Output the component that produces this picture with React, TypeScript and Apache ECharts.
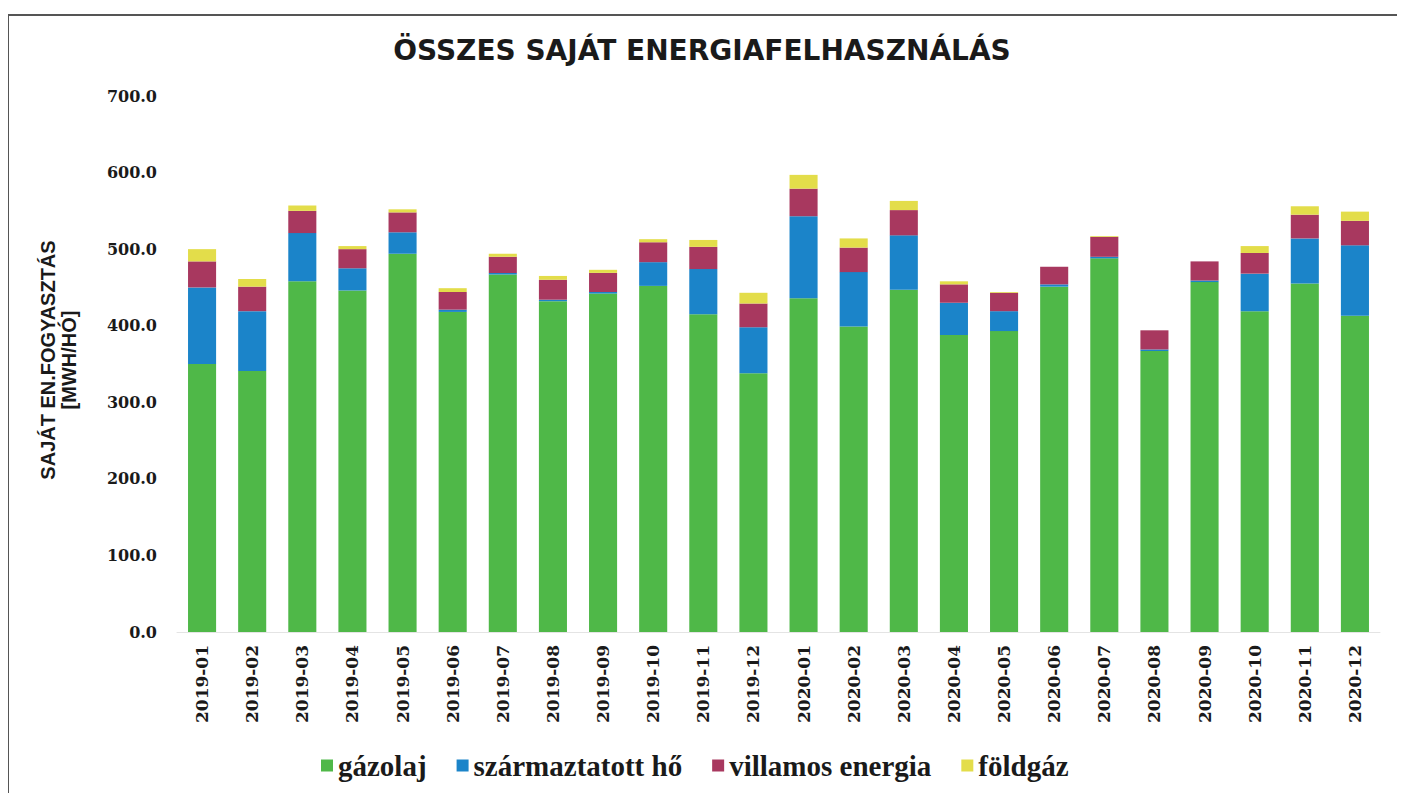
import React, { useEffect, useRef } from "react";
import * as echarts from "echarts";

const categories = [
  "2019-01", "2019-02", "2019-03", "2019-04", "2019-05", "2019-06",
  "2019-07", "2019-08", "2019-09", "2019-10", "2019-11", "2019-12",
  "2020-01", "2020-02", "2020-03", "2020-04", "2020-05", "2020-06",
  "2020-07", "2020-08", "2020-09", "2020-10", "2020-11", "2020-12",
];
const gazolaj = [350, 341, 458, 446, 494, 418, 467, 432, 442, 452, 415, 338, 436, 399, 447, 388, 393, 451, 488, 367, 457, 419, 455, 413];
const szarmaztatottHo = [100, 78, 63, 29, 28, 3, 2, 2, 2, 31, 59, 60, 107, 71, 71, 42, 26, 3, 2, 2, 2, 49, 59, 92];
const villamosEnergia = [34, 32, 29, 25, 26, 23, 21, 26, 25, 26, 29, 31, 36, 32, 33, 24, 24, 23, 26, 25, 25, 27, 31, 32];
const foldgaz = [16, 10, 7, 4, 4, 5, 4, 5, 4, 4, 9, 14, 18, 12, 12, 4, 1, 0, 1, 0, 0, 9, 11, 12];

const seriesNames = ["gázolaj", "származtatott hő", "villamos energia", "földgáz"];
const seriesColors = ["#4fb848", "#1b84c9", "#a8385f", "#e3dd4a"];
const seriesData = [gazolaj, szarmaztatottHo, villamosEnergia, foldgaz];

const title = "ÖSSZES SAJÁT ENERGIAFELHASZNÁLÁS";
const yAxisTitle = "SAJÁT EN.FOGYASZTÁS\n[MWH/HÓ]";

export default function App() {
  const ref = useRef<HTMLDivElement>(null);
  useEffect(() => {
    if (!ref.current) return;
    const chart = echarts.init(ref.current, null, { renderer: "svg" });
    chart.setOption({
      animation: false,
      backgroundColor: "#ffffff",
      title: {
        text: title,
        left: 697,
        textAlign: "center",
        top: 31,
        textStyle: {
          fontFamily: "DejaVu Sans",
          fontWeight: "bold",
          fontSize: 28,
          color: "#1a1a1a",
        },
      },
      graphic: [
        { type: "line", shape: { x1: 8, y1: 15, x2: 1405, y2: 15 }, style: { stroke: "#555", lineWidth: 2 } },
        { type: "line", shape: { x1: 8, y1: 15, x2: 8, y2: 801 }, style: { stroke: "#555", lineWidth: 2 } },
        {
          type: "text",
          x: 58,
          y: 360,
          rotation: Math.PI / 2,
          style: {
            text: yAxisTitle,
            fontFamily: "Liberation Sans",
            fontWeight: "bold",
            fontSize: 20,
            lineHeight: 21,
            fill: "#1a1a1a",
            align: "center",
            verticalAlign: "middle",
          },
        },
      ],
      legend: {
        bottom: 16,
        left: 316,
        itemWidth: 12,
        itemHeight: 12,
        itemGap: 30,
        icon: "rect",
        textStyle: {
          fontFamily: "Liberation Serif",
          fontWeight: "bold",
          fontSize: 29,
          color: "#1a1a1a",
        },
        data: seriesNames,
      },
      grid: { left: 177, right: 25, top: 96, bottom: 169 },
      xAxis: {
        type: "category",
        data: categories,
        axisLine: { show: true, lineStyle: { color: "#e4e4e4" } },
        axisTick: { show: false },
        axisLabel: {
          rotate: 90,
          margin: 13,
          fontFamily: "DejaVu Serif",
          fontWeight: "bold",
          fontSize: 17,
          color: "#1a1a1a",
        },
      },
      yAxis: {
        type: "value",
        min: 0,
        max: 700,
        interval: 100,
        splitLine: { show: false },
        axisLine: { show: false },
        axisTick: { show: false },
        axisLabel: {
          margin: 20,
          formatter: (v: number) => v.toFixed(1),
          fontFamily: "DejaVu Serif",
          fontWeight: "bold",
          fontSize: 16,
          color: "#1a1a1a",
        },
      },
      series: seriesNames.map((name, i) => ({
        name,
        type: "bar",
        stack: "total",
        barWidth: "56%",
        data: seriesData[i],
        itemStyle: { color: seriesColors[i] },
      })),
    });
    return () => chart.dispose();
  }, []);
  return <div ref={ref} style={{ width: 1405, height: 801, margin: -8 }} />;
}
